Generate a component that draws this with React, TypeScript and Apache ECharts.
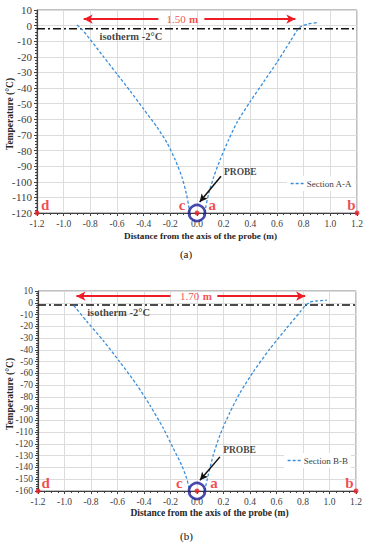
import React, { useEffect, useRef } from "react";
import * as echarts from "echarts";

// ---------- DATA ----------
const X_MIN = -1.2;
const X_MAX = 1.2;
const Y_MIN_A = -120;
const Y_MIN_B = -160;
const Y_MAX = 10;
const ISOTHERM = -2;

// Section A-A (panel a)
const sectionA_left: [number, number][] = [
  [-0.9, 0.4], [-0.862, -2.5], [-0.8, -9], [-0.75, -14.5], [-0.7, -20],
  [-0.6, -31], [-0.5, -42], [-0.4, -53.5], [-0.3, -65], [-0.225, -75],
  [-0.163, -86], [-0.113, -97], [-0.08, -107.5], [-0.063, -115], [-0.055, -120],
];
const sectionA_right: [number, number][] = [
  [0.06, -120], [0.066, -116], [0.088, -107.5], [0.125, -97], [0.175, -85.5],
  [0.238, -73], [0.3, -62], [0.4, -48.5], [0.5, -36], [0.6, -23.5],
  [0.7, -10], [0.755, -2.5], [0.785, -0.3], [0.83, 1], [0.9, 1.9],
];

// Section B-B (panel b)
const sectionB_left: [number, number][] = [
  [-0.93, -2.3], [-0.834, -15.5], [-0.709, -32], [-0.583, -50.2], [-0.456, -69.5],
  [-0.356, -87], [-0.255, -106.5], [-0.18, -123.5], [-0.116, -138], [-0.078, -149.3],
  [-0.059, -157.7], [-0.055, -160],
];
const sectionB_right: [number, number][] = [
  [0.058, -160], [0.062, -157.7], [0.085, -146.4], [0.123, -129.4], [0.173, -112.5],
  [0.249, -93], [0.325, -76.5], [0.425, -58.7], [0.551, -39], [0.677, -21.5],
  [0.778, -7.8], [0.816, -2.5], [0.853, 0.5], [0.9, 1.5], [0.98, 2.2],
];

// annotation points (data coordinates)
const pointsA: [number, number][] = [[-1.2, -120], [0, -120], [1.2, -120]];
const pointsB: [number, number][] = [[-1.2, -160], [0, -160], [1.2, -160]];
const lettersA = [
  { name: "d", value: [-1.138, -115] },
  { name: "c", value: [-0.112, -115] },
  { name: "a", value: [0.115, -115] },
  { name: "b", value: [1.158, -115] },
];
const lettersB = [
  { name: "d", value: [-1.142, -153.6] },
  { name: "c", value: [-0.134, -153.6] },
  { name: "a", value: [0.128, -153.6] },
  { name: "b", value: [1.151, -153.6] },
];
// width arrows: [y, leftEnd, gapLeft, gapRight, rightEnd, labelX]
const widthArrowA = [4.2, -0.85, -0.29, 0.055, 0.738, -0.11];
const widthArrowB = [5.6, -0.91, -0.2, 0.153, 0.816, -0.008];
const widthLabelA = "1.50";
const widthLabelB = "1.70";
// probe arrow: [x1, y1, x2, y2]
const probeArrowA = [0.18, -96.5, 0.02, -113];
const probeArrowB = [0.173, -131, 0.022, -150.8];
const probeTextA: [number, number] = [0.325, -93.6];
const probeTextB: [number, number] = [0.321, -125.4];
const isoTextA: [number, number] = [-0.496, -6.7];
const isoTextB: [number, number] = [-0.592, -8];

const SERIF = "'Liberation Serif', 'Times New Roman', serif";
const RED = "#ee1c25";
const CURVE = "#3a8edb";
const NAVY = "#1c1c96";

function fmtX(v: number) {
  const r = Math.abs(v) < 1e-9 ? 0 : v;
  return r.toFixed(1);
}

function panelSeries(
  idx: number,
  name: string,
  left: [number, number][],
  right: [number, number][],
  yMin: number,
  points: [number, number][],
  letters: { name: string; value: number[] }[],
  wa: number[],
  wLabel: string,
  pa: number[],
  probeText: [number, number],
  isoText: [number, number]
) {
  const axes = { xAxisIndex: idx, yAxisIndex: idx };
  const curveStyle = { color: CURVE, width: 1.3, type: [3, 2] as any };
  return [
    {
      type: "line", ...axes, name: "iso" + idx, data: [[X_MIN, ISOTHERM], [X_MAX, ISOTHERM]],
      symbol: "none", silent: true,
      lineStyle: { color: "#111", width: 1.5, type: [8, 3, 2, 3] }, z: 3,
    },
    {
      type: "line", ...axes, name, data: left, symbol: "none", smooth: 0.2,
      lineStyle: curveStyle, itemStyle: { color: CURVE }, z: 4,
    },
    {
      type: "line", ...axes, name, data: right, symbol: "none", smooth: 0.2,
      lineStyle: curveStyle, itemStyle: { color: CURVE }, z: 4,
    },
    {
      type: "line", ...axes, name: "widthArrow" + idx, data: [], symbol: "none",
      markLine: {
        silent: true, symbol: ["none", "arrow"], symbolSize: [7, 9],
        label: { show: false },
        lineStyle: { color: RED, width: 2, type: "solid" },
        data: [
          [{ coord: [wa[2], wa[0]] }, { coord: [wa[1], wa[0]] }],
          [{ coord: [wa[3], wa[0]] }, { coord: [wa[4], wa[0]] }],
        ],
      },
    },
    {
      type: "line", ...axes, name: "probeArrow" + idx, data: [], symbol: "none",
      markLine: {
        silent: true, symbol: ["none", "arrow"], symbolSize: [6, 8],
        label: { show: false },
        lineStyle: { color: "#111", width: 1.5, type: "solid" },
        data: [[{ coord: [pa[0], pa[1]] }, { coord: [pa[2], pa[3]] }]],
      },
    },
    {
      type: "scatter", ...axes, name: "probeCircle" + idx, data: [[0, yMin]],
      symbolSize: 16, clip: false, silent: true,
      itemStyle: { color: "rgba(0,0,0,0)", borderColor: NAVY, borderWidth: 2.6 }, z: 6,
    },
    {
      type: "scatter", ...axes, name: "points" + idx, data: points,
      symbolSize: 5, clip: false, silent: true, itemStyle: { color: RED }, z: 7,
    },
    {
      type: "scatter", ...axes, name: "letters" + idx, data: letters,
      symbolSize: 1, clip: false, silent: true, itemStyle: { color: "rgba(0,0,0,0)" },
      label: {
        show: true, position: "inside", formatter: (p: any) => p.name,
        color: RED, fontFamily: SERIF, fontWeight: "bold", fontSize: 15,
      }, z: 8,
    },
    {
      type: "scatter", ...axes, name: "texts" + idx,
      data: [
        { value: [wa[5], wa[0]], name: "w" },
        { value: probeText, name: "p" },
        { value: isoText, name: "i" },
      ],
      symbolSize: 1, clip: false, silent: true, itemStyle: { color: "rgba(0,0,0,0)" },
      label: {
        show: true, position: "inside",
        formatter: (p: any) =>
          p.name === "w" ? `{n|${wLabel}} {m|m}` : p.name === "p" ? "{b|PROBE}" : "{i|isotherm -2°C}",
        rich: {
          n: { color: RED, fontFamily: SERIF, fontSize: 11 },
          m: { color: RED, fontFamily: SERIF, fontSize: 11, fontWeight: "bold" },
          b: { color: "#111", fontFamily: SERIF, fontSize: 9.5, fontWeight: "bold" },
          i: { color: "#111", fontFamily: SERIF, fontSize: 10.5, fontWeight: "bold" },
        },
      }, z: 8,
    },
  ];
}

function xAxisCfg(idx: number) {
  return {
    type: "value", gridIndex: idx, min: X_MIN, max: X_MAX, interval: 0.2,
    axisLine: { show: true, onZero: false, lineStyle: { color: "#404040", width: 1.2 } },
    axisTick: { show: true, length: 3, lineStyle: { color: "#404040" } },
    minorTick: { show: true, splitNumber: 4, length: 2, lineStyle: { color: "#404040" } },
    axisLabel: { formatter: fmtX, fontFamily: SERIF, fontSize: 9.5, color: "#404040", margin: 6 },
    splitLine: { show: true, lineStyle: { color: "#dcdcdc", width: 1 } },
  };
}

function yAxisCfg(idx: number, min: number, fontSize: number) {
  return {
    type: "value", gridIndex: idx, min, max: Y_MAX, interval: 10,
    axisLine: { show: true, onZero: false, lineStyle: { color: "#404040", width: 1.2 } },
    axisTick: { show: true, length: 3, lineStyle: { color: "#404040" } },
    minorTick: { show: true, splitNumber: 5, length: 2, lineStyle: { color: "#404040" } },
    axisLabel: { fontFamily: SERIF, fontSize, color: "#404040", margin: 5 },
    splitLine: { show: true, lineStyle: { color: "#dcdcdc", width: 1 } },
  };
}

function buildOption() {
  const legendStyle = {
    orient: "vertical", padding: [3, 3], itemWidth: 14, itemHeight: 8, itemGap: 0,
    backgroundColor: "#fff",
    itemStyle: { opacity: 0 },
    lineStyle: { color: CURVE, width: 1.3, type: [3, 2] },
    textStyle: { fontFamily: SERIF, fontSize: 9, color: "#404040", padding: [0, 0, 0, -3] },
  };
  const titleFont = (s: number) => `bold ${s}px ${SERIF}`;
  return {
    animation: false,
    backgroundColor: "#fff",
    grid: [
      { left: 37, top: 10, width: 320, height: 203, show: true, borderColor: "#808080", borderWidth: 1, backgroundColor: "#fff" },
      { left: 38, top: 291, width: 318, height: 200, show: true, borderColor: "#808080", borderWidth: 1, backgroundColor: "#fff" },
    ],
    xAxis: [xAxisCfg(0), xAxisCfg(1)],
    yAxis: [yAxisCfg(0, Y_MIN_A, 11), yAxisCfg(1, Y_MIN_B, 9.5)],
    legend: [
      { ...legendStyle, left: 287, top: 176, data: ["Section A-A"] },
      { ...legendStyle, left: 284, top: 453, data: ["Section B-B"] },
    ],
    series: [
      ...panelSeries(0, "Section A-A", sectionA_left, sectionA_right, Y_MIN_A, pointsA, lettersA,
        widthArrowA, widthLabelA, probeArrowA, probeTextA, isoTextA),
      ...panelSeries(1, "Section B-B", sectionB_left, sectionB_right, Y_MIN_B, pointsB, lettersB,
        widthArrowB, widthLabelB, probeArrowB, probeTextB, isoTextB),
    ],
    graphic: [
      { type: "text", x: 200.5, y: 236, style: { text: "Distance from the axis of the probe (m)", font: titleFont(9.2), fill: "#262626", textAlign: "center", textVerticalAlign: "middle" } },
      { type: "text", x: 209.5, y: 513, style: { text: "Distance from the axis of the probe (m)", font: titleFont(9.5), fill: "#262626", textAlign: "center", textVerticalAlign: "middle" } },
      { type: "text", x: 9.5, y: 114, rotation: Math.PI / 2, style: { text: "Temperature (°C)", font: titleFont(9.5), fill: "#262626", textAlign: "center", textVerticalAlign: "middle" } },
      { type: "text", x: 9.5, y: 394, rotation: Math.PI / 2, style: { text: "Temperature (°C)", font: titleFont(9.5), fill: "#262626", textAlign: "center", textVerticalAlign: "middle" } },
      { type: "text", x: 186, y: 254, style: { text: "(a)", font: `11px ${SERIF}`, fill: "#111", textAlign: "center", textVerticalAlign: "middle" } },
      { type: "text", x: 186.5, y: 536, style: { text: "(b)", font: `11px ${SERIF}`, fill: "#111", textAlign: "center", textVerticalAlign: "middle" } },
    ],
  };
}

export default function App() {
  const ref = useRef<HTMLDivElement>(null);
  useEffect(() => {
    const chart = echarts.init(ref.current!, null, { renderer: "svg" });
    chart.setOption(buildOption() as any);
    return () => chart.dispose();
  }, []);
  return (
    <div
      ref={ref}
      style={{ position: "fixed", left: 0, top: 0, width: 371, height: 550, background: "#fff" }}
    />
  );
}
